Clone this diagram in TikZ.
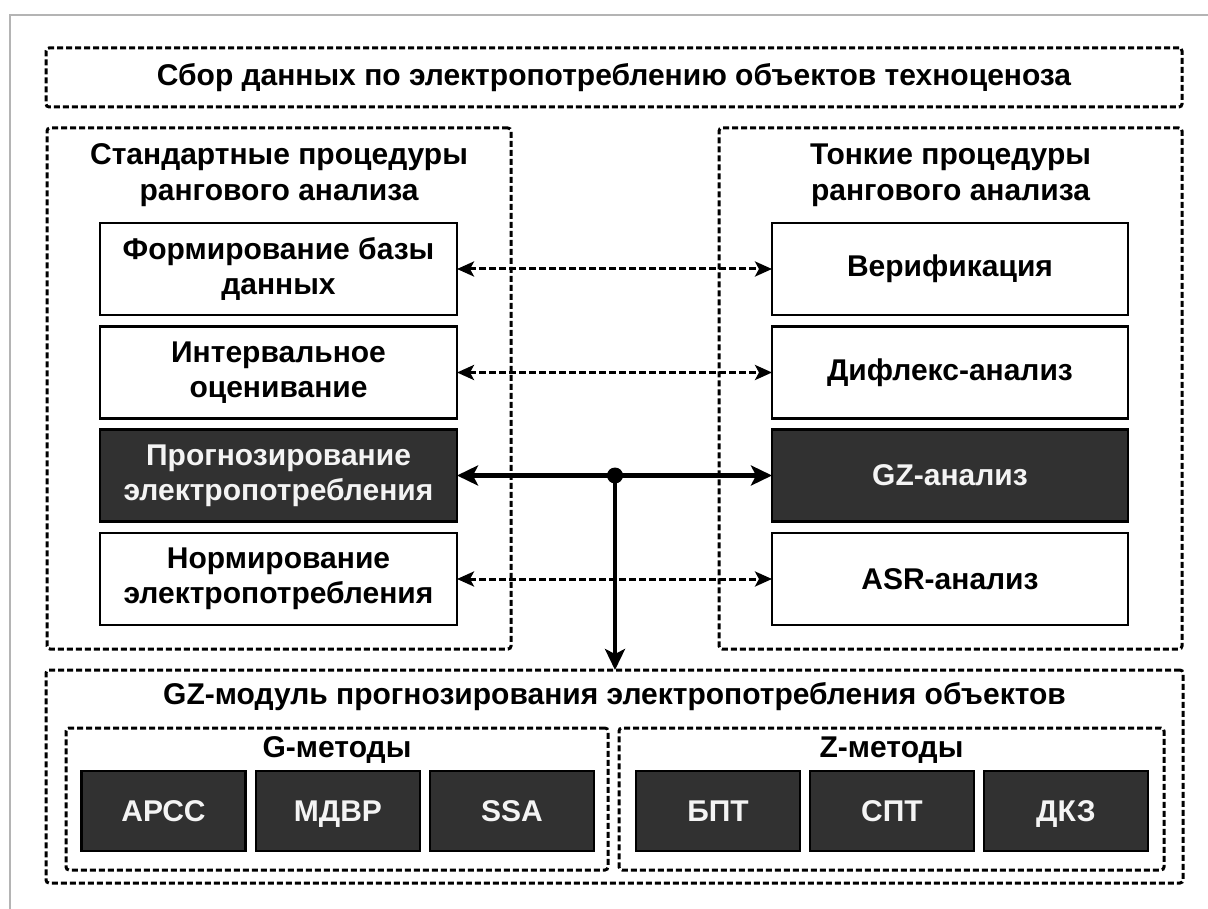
\documentclass[tikz,border=0pt]{standalone}
\usepackage{fontspec}
\setmainfont{Liberation Sans}
\usetikzlibrary{arrows.meta}
\definecolor{darkfill}{HTML}{313131}
\definecolor{litetext}{HTML}{F4F4F4}
\definecolor{framegray}{HTML}{B4B4B4}
\tikzset{
  dbox/.style={draw=black, line width=3pt, dash pattern=on 6pt off 3pt, rounded corners=3pt, inner sep=0pt, outer sep=0pt},
  ttl/.style={font=\bfseries\fontsize{30}{36}\selectfont, align=center, inner sep=0pt},
  wbox/.style={draw=black, line width=2.7pt, fill=white, align=center, inner sep=0pt, outer sep=0pt, font=\bfseries\fontsize{30}{35}\selectfont},
  bbox/.style={wbox, fill=darkfill, text=litetext},
  sbox/.style={bbox, minimum width=164pt, minimum height=80pt, text height=21.5pt, text depth=0pt, font=\bfseries\fontsize{30}{35}\selectfont},
  dar/.style={line width=3pt, dash pattern=on 6.5pt off 3.5pt, {Stealth[length=17pt,width=15pt,inset=4pt]}-{Stealth[length=17pt,width=15pt,inset=4pt]}},
  sar/.style={line width=4.5pt, -{Stealth[length=21pt,width=20pt,inset=5pt]}},
}
\begin{document}
\begin{tikzpicture}[x=1pt,y=-1pt]
\useasboundingbox[fill=white] (0,0) rectangle (1208,909);
% page edge
\draw[framegray, line width=2pt] (10,909) -- (10,15) -- (1208,15);

% top box
\node[dbox, minimum width=1136pt, minimum height=59pt, ttl] (top) at (614,77.5) {Сбор данных по электропотреблению объектов техноценоза};

% panels
\node[dbox, minimum width=464pt, minimum height=521pt] (lp) at (279,388.5) {};
\node[dbox, minimum width=463pt, minimum height=521pt] (rp) at (950.5,388.5) {};
\node[ttl] (lpt) at (279,175) {Стандартные процедуры\\рангового анализа};
\node[ttl] (rpt) at (950.5,175) {Тонкие процедуры\\рангового анализа};

% left boxes
\node[wbox, minimum width=357pt, minimum height=92pt] (l1) at (278.5,269) {Формирование базы\\данных};
\node[wbox, minimum width=357pt, minimum height=92pt] (l2) at (278.5,372.5) {Интервальное\\оценивание};
\node[bbox, minimum width=357pt, minimum height=92pt] (l3) at (278.5,475.5) {Прогнозирование\\электропотребления};
\node[wbox, minimum width=357pt, minimum height=92pt] (l4) at (278.5,579) {Нормирование\\электропотребления};

% right boxes
\node[wbox, minimum width=356pt, minimum height=92pt] (r1) at (950,269) {Верификация};
\node[wbox, minimum width=356pt, minimum height=92pt] (r2) at (950,372.5) {Дифлекс-анализ};
\node[bbox, minimum width=356pt, minimum height=92pt] (r3) at (950,475.5) {GZ-анализ};
\node[wbox, minimum width=356pt, minimum height=92pt] (r4) at (950,579) {ASR-анализ};

% bottom module
\node[dbox, minimum width=1137pt, minimum height=213pt] (bot) at (614.5,776.5) {};
\node[ttl] (bott) at (614.5,697) {GZ-модуль прогнозирования электропотребления объектов};
\node[dbox, minimum width=542pt, minimum height=142pt] (gb) at (337,799) {};
\node[dbox, minimum width=545pt, minimum height=142pt] (zb) at (891.5,799) {};
\node[ttl] (gbt) at (337,750) {G-методы};
\node[ttl] (zbt) at (891.5,750) {Z-методы};

\node[sbox] (g1) at (163.5,811) {АРСС};
\node[sbox] (g2) at (338,811) {МДВР};
\node[sbox] (g3) at (512,811) {SSA};
\node[sbox] (z1) at (718,811) {БПТ};
\node[sbox] (z2) at (892,811) {СПТ};
\node[sbox] (z3) at (1066,811) {ДКЗ};

% connectors
\draw[dar] (l1.east) -- (r1.west);
\draw[dar] (l2.east) -- (r2.west);
\draw[dar] (l4.east) -- (r4.west);
\coordinate (hub) at (615,475.5);
\draw[sar] (hub) -- (l3.east);
\draw[sar] (hub) -- (r3.west);
\draw[sar] (hub) -- (hub |- bot.north);
\fill (hub) circle (8pt);
\end{tikzpicture}
\end{document}
